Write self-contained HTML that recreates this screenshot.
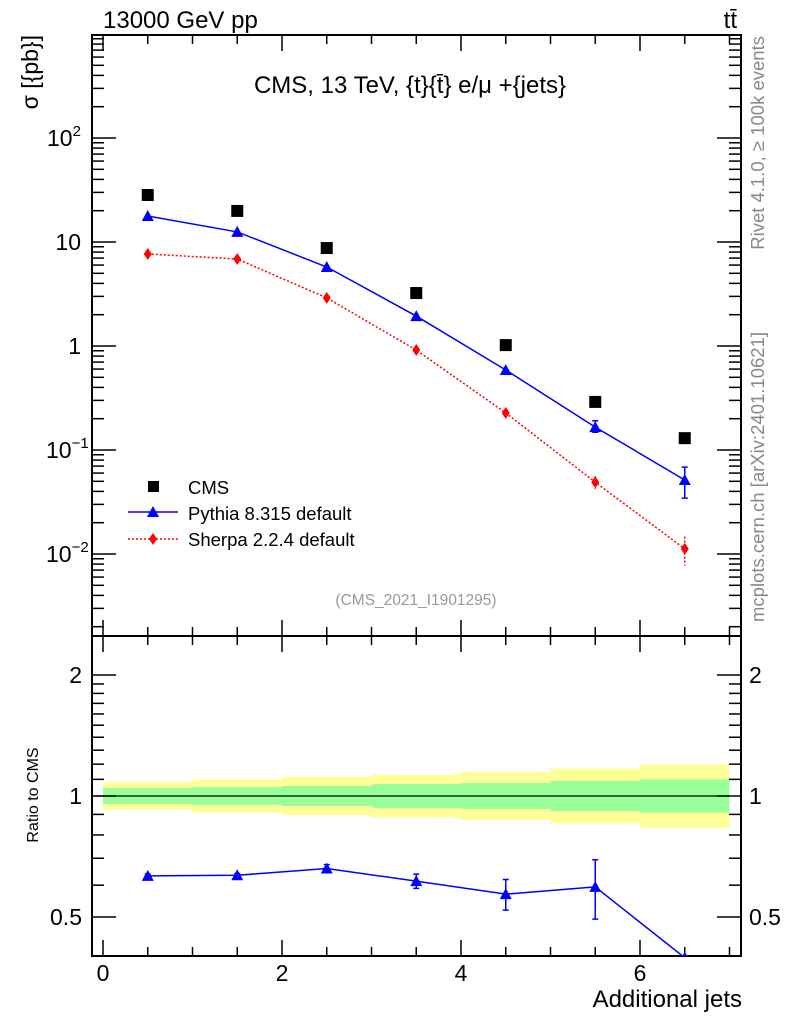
<!DOCTYPE html>
<html><head><meta charset="utf-8"><style>
body{margin:0;background:#fff}
svg text{font-family:"Liberation Sans",sans-serif;fill:#000}
</style></head><body>
<svg id="c" width="786" height="1024" xmlns="http://www.w3.org/2000/svg"></svg>
<script>
const categories=[0.5,1.5,2.5,3.5,4.5,5.5,6.5];
const cmsValues=[28.3,19.9,8.75,3.23,1.02,0.29,0.13];
const pythiaValues=[17.8,12.5,5.75,1.94,0.588,0.166,0.0515];
const pythiaErrLo=[0,0,0,0,0,0.018,0.017];
const pythiaErrHi=[0,0,0,0,0,0.025,0.017];
const sherpaValues=[7.67,6.86,2.9,0.915,0.227,0.049,0.0112];
const sherpaErr=[0,0,0,0,0.02,0.007,0.0035];
const ratioValues=[0.633,0.635,0.66,0.614,0.57,0.594,0.396];
const ratioErr=[0.006,0.006,0.015,0.025,0.05,0.1,0];
const bandYellow=[1.083,1.10,1.115,1.13,1.147,1.17,1.20];
const bandGreen=[1.046,1.053,1.059,1.07,1.077,1.09,1.10];
const xTicks=[0,2,4,6];
const yTicks=[{v:100,t:"10",e:"2"},{v:10,t:"10"},{v:1,t:"1"},{v:0.1,t:"10",e:"−1"},{v:0.01,t:"10",e:"−2"}];
const rTicks=[2,1,0.5];

const svg=document.getElementById('c');const NS="http://www.w3.org/2000/svg";
function el(tag,attrs,parent){const e=document.createElementNS(NS,tag);for(const k in attrs)e.setAttribute(k,attrs[k]);(parent||svg).appendChild(e);return e;}
const L=92,R=741,T=35,M=636,B=956;
const X=v=>103+v*89.5;
const Y=v=>346-104*Math.log10(v);
const RY=v=>796-121*Math.log2(v);

const defs=el('defs',{});
const cp=el('clipPath',{id:'rc'},defs);el('rect',{x:L,y:M,width:R-L,height:B-M},cp);
const cp2=el('clipPath',{id:'tc'},defs);el('rect',{x:L,y:T,width:R-L,height:M-T},cp2);

const bands=el('g',{'clip-path':'url(#rc)'});

categories.forEach((c,i)=>{
 const x0=X(c-0.5),w=89.5;
 const r1=el('rect',{x:x0,y:RY(bandYellow[i]),width:w,height:RY(1/bandYellow[i])-RY(bandYellow[i]),fill:'#ffff99'},bands);
 
 const r2=el('rect',{x:x0,y:RY(bandGreen[i]),width:w,height:RY(1/bandGreen[i])-RY(bandGreen[i]),fill:'#99ff99'},bands);
 
});
const one=el('line',{x1:L,x2:X(7),y1:RY(1),y2:RY(1),stroke:'#000','stroke-width':1.3});


const f1=el('rect',{x:L,y:T,width:R-L,height:M-T,fill:'none',stroke:'#000','stroke-width':2});

const f2=el('rect',{x:L,y:M,width:R-L,height:B-M,fill:'none',stroke:'#000','stroke-width':2});


const xt=el('g',{stroke:'#000','stroke-width':1.5});

for(let v=0;v<=7.001;v+=0.5){const big=Math.abs(v-Math.round(v/2)*2)<1e-6;const len=big?16:9;
 [[T,1],[M,-1],[M,1],[B,-1]].forEach(([y,d])=>el('line',{x1:X(v),x2:X(v),y1:y,y2:y+d*len},xt));}
xTicks.forEach(v=>{const t=el('text',{x:X(v),y:981,'font-size':23,'text-anchor':'middle'});t.textContent=v;
 });

const yt=el('g',{stroke:'#000','stroke-width':1.5});

for(let e=-3;e<=2;e++)for(let m=1;m<=9;m++){const v=m*Math.pow(10,e);const y=Y(v);if(y<T||y>M)continue;const len=m==1?24:12;
 el('line',{x1:L,x2:L+len,y1:y,y2:y},yt);el('line',{x1:R,x2:R-len,y1:y,y2:y},yt);}
yTicks.forEach(o=>{const t=el('text',{x:81,y:Y(o.v)+8,'font-size':23,'text-anchor':'end'});
 
 t.textContent=o.t;if(o.e){t.setAttribute('x',o.e.length>1?46:47);t.setAttribute('text-anchor','start');const s=el('tspan',{dy:-10,'font-size':15},t);s.textContent=o.e;}});

const rt=el('g',{stroke:'#000','stroke-width':1.5});

[0.4,0.5,0.6,0.7,0.8,0.9,1,1.1,1.2,1.3,1.4,1.5,1.6,1.7,1.8,1.9,2].forEach(v=>{const y=RY(v);if(y<M||y>B)return;const big=[0.5,1,2].includes(v);const len=big?24:12;
 el('line',{x1:L,x2:L+len,y1:y,y2:y},rt);el('line',{x1:R,x2:R-len,y1:y,y2:y},rt);});
rTicks.forEach(v=>{[[82,'end'],[749,'start']].forEach(([x,a])=>{const t=el('text',{x:x,y:RY(v)+8,'font-size':23,'text-anchor':a});t.textContent=v;
 });});

const g=el('g',{'clip-path':'url(#tc)'});

const sp=el('polyline',{points:categories.map((c,i)=>X(c)+','+Y(sherpaValues[i])).join(' '),fill:'none',stroke:'#ff0000','stroke-width':1.5,'stroke-dasharray':'2,2'},g);

const pp=el('polyline',{points:categories.map((c,i)=>X(c)+','+Y(pythiaValues[i])).join(' '),fill:'none',stroke:'#0000ff','stroke-width':1.5},g);

function tri(x,y,col,p){return el('path',{d:`M${x},${y-6}L${x+6},${y+5}L${x-6},${y+5}Z`,fill:col},p);}
function dia(x,y,col,p){return el('path',{d:`M${x},${y-6}L${x+4},${y}L${x},${y+6}L${x-4},${y}Z`,fill:col},p);}
categories.forEach((c,i)=>{const x=X(c);
 const m=el('rect',{x:x-6,y:Y(cmsValues[i])-6,width:12,height:12,fill:'#000'},g);
 
 if(pythiaErrHi[i]>0){const e=el('path',{d:`M${x},${Y(pythiaValues[i]+pythiaErrHi[i])}V${Y(pythiaValues[i]-pythiaErrLo[i])}M${x-3},${Y(pythiaValues[i]+pythiaErrHi[i])}h6M${x-3},${Y(pythiaValues[i]-pythiaErrLo[i])}h6`,stroke:'#0000ff','stroke-width':1.5},g);
  }
 const p=tri(x,Y(pythiaValues[i]),'#0000ff',g);
 
 if(sherpaErr[i]>0){const e=el('path',{d:`M${x},${Y(sherpaValues[i]+sherpaErr[i])}V${Y(sherpaValues[i]-sherpaErr[i])}`,stroke:'#ff0000','stroke-width':1.5,'stroke-dasharray':'2,2'},g);
  }
 const s=dia(x,Y(sherpaValues[i]),'#ff0000',g);
 
});

const rg=el('g',{'clip-path':'url(#rc)'});

const rl=el('polyline',{points:categories.map((c,i)=>X(c)+','+RY(ratioValues[i])).join(' '),fill:'none',stroke:'#0000ff','stroke-width':1.5},rg);

categories.forEach((c,i)=>{const x=X(c);const hi=RY(ratioValues[i]+ratioErr[i]),lo=RY(ratioValues[i]-ratioErr[i]);
 if(ratioErr[i]>0){const e=el('path',{d:`M${x},${hi}V${lo}M${x-3},${hi}h6M${x-3},${lo}h6`,stroke:'#0000ff','stroke-width':1.5},rg);
 }
 const p=tri(x,RY(ratioValues[i]),'#0000ff',rg);
 });

const lg=el('g',{});
el('rect',{x:148,y:481,width:11,height:11,fill:'#000'},lg);
el('line',{x1:128,x2:178,y1:512,y2:512,stroke:'#0000ff','stroke-width':1.5},lg);tri(153,512,'#0000ff',lg);
el('line',{x1:128,x2:178,y1:539,y2:539,stroke:'#ff0000','stroke-width':1.5,'stroke-dasharray':'2,2'},lg);dia(153,539,'#ff0000',lg);
[["CMS",494],["Pythia 8.315 default",520],["Sherpa 2.2.4 default",546]].forEach(([s,y])=>{const t=el('text',{x:188,y:y,'font-size':18.5},lg);t.textContent=s;
 });

function txt(s,a,name){const t=el('text',a);t.textContent=s;return t;}
txt('13000 GeV pp',{x:103,y:28,'font-size':24},'beam-label');
txt('tt̄',{x:737,y:28,'font-size':24,'text-anchor':'end'},'process-label');
txt('CMS, 13 TeV, {t}{t̄} e/μ +{jets}',{x:410,y:93,'font-size':24,'text-anchor':'middle'},'plot-title');
txt('(CMS_2021_I1901295)',{x:416,y:605,'font-size':15.5,'text-anchor':'middle',style:'fill:#999'},'analysis-id');
txt('σ [{pb}]',{x:0,y:0,'font-size':23,'text-anchor':'end',transform:'translate(38,35) rotate(-90)'},'y-axis-title');
txt('Ratio to CMS',{x:0,y:0,'font-size':16,'text-anchor':'middle',transform:'translate(38,795) rotate(-90)'},'ratio-axis-title');
txt('Additional jets',{x:742,y:1007,'font-size':24,'text-anchor':'end'},'x-axis-title');
txt('Rivet 4.1.0, ≥ 100k events',{x:0,y:0,'font-size':18.5,'text-anchor':'end',style:'fill:#888',transform:'translate(764,36) rotate(-90)'},'rivet-label');
txt('mcplots.cern.ch [arXiv:2401.10621]',{x:0,y:0,'font-size':18.5,'text-anchor':'end',style:'fill:#888',transform:'translate(764,332) rotate(-90)'},'mcplots-label');
</script>
</body></html>
